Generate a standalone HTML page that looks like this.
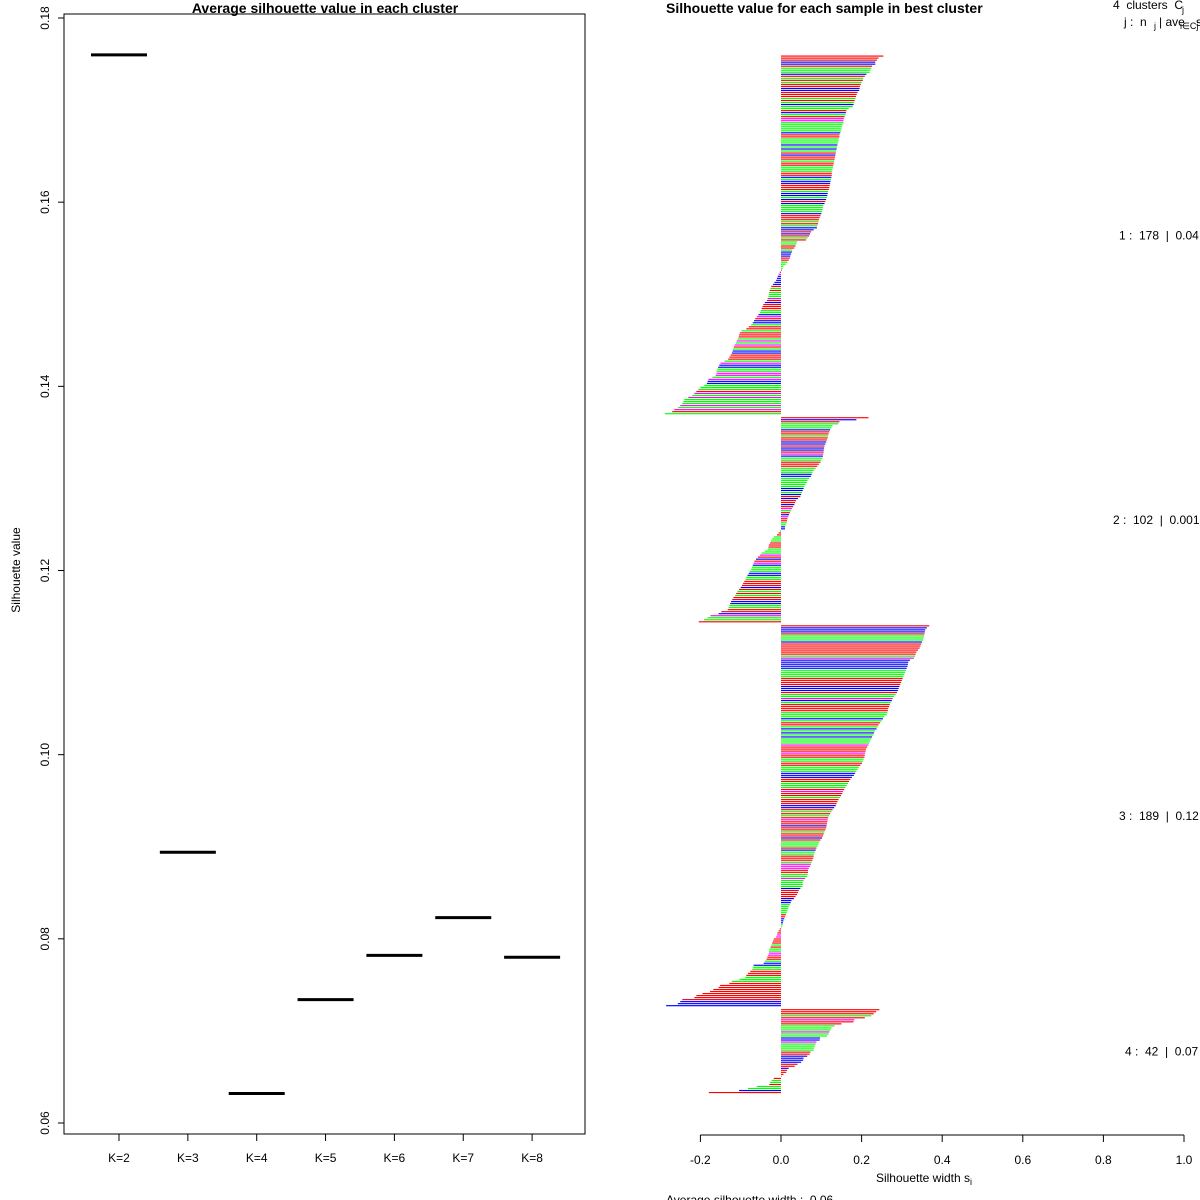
<!DOCTYPE html>
<html><head><meta charset="utf-8">
<style>
html,body{margin:0;padding:0;background:#fff;}
svg{display:block;font-family:"Liberation Sans",Arial,sans-serif;}
.pre{white-space:pre;}
</style></head>
<body>
<svg id="chart" width="1200" height="1200" viewBox="0 0 1200 1200" xmlns="http://www.w3.org/2000/svg">
<rect x="0" y="0" width="1200" height="1200" fill="#fff"/>
<g id="left"></g>
<g id="right"></g>
</svg>
<script>
// ---------- Left chart data ----------
const kLabels = ["K=2","K=3","K=4","K=5","K=6","K=7","K=8"];
const avgSil = [0.176,0.0894,0.0632,0.0734,0.0782,0.0823,0.0780];
const yTicks = [0.06,0.08,0.10,0.12,0.14,0.16,0.18];

// ---------- Right chart data ----------
const clusterSizes = [178,102,189,42];
const clusterAvgLabels = ["0.04","0.001","0.12","0.07"];
const sil1 = [0.254,0.242,0.238,0.234,0.234,0.226,0.224,0.222,0.220,0.212,0.208,0.204,0.203,0.200,0.198,0.196,0.195,0.194,0.190,0.188,0.186,0.185,0.183,0.181,0.180,0.178,
0.168,0.162,0.161,0.160,0.158,0.156,0.155,0.155,0.153,0.151,0.150,0.149,0.147,0.145,0.145,0.143,0.143,0.141,0.140,0.139,0.138,0.137,0.136,0.135,0.134,0.133,0.132,0.131,0.130,0.129,
0.128,0.127,0.126,0.126,0.125,0.124,0.123,0.122,0.121,0.120,0.119,0.117,0.116,0.115,0.114,0.112,0.110,0.108,0.105,0.104,0.103,0.102,0.100,0.098,0.096,0.094,0.093,0.092,0.090,0.089,
0.081,0.075,0.072,0.070,0.066,0.062,
0.040,0.038,0.036,0.033,0.028,0.027,0.025,0.023,0.022,0.019,0.016,0.012,0.006,0.004,0.002,
-0.003,-0.006,-0.008,-0.010,-0.012,-0.016,-0.020,-0.024,-0.026,-0.028,-0.030,-0.030,-0.031,-0.033,-0.035,-0.040,-0.044,-0.046,-0.048,-0.050,-0.052,-0.056,-0.060,-0.064,-0.067,-0.070,-0.074,-0.080,-0.086,-0.098,-0.102,-0.104,-0.105,-0.107,-0.110,-0.112,-0.115,-0.117,-0.119,-0.120,-0.122,-0.125,-0.128,-0.131,-0.140,-0.150,-0.153,-0.156,-0.158,-0.160,-0.160,-0.162,-0.170,-0.180,-0.182,-0.184,-0.190,-0.200,-0.205,-0.210,-0.215,-0.220,-0.230,-0.240,-0.242,-0.245,-0.250,-0.255,-0.265,-0.270,-0.288];
const sil2 = [0.217,0.187,0.145,0.142,0.128,0.125,0.122,0.120,0.118,0.117,0.116,0.114,0.112,0.110,0.108,0.107,0.106,0.106,0.105,0.104,0.103,0.100,0.098,0.094,0.090,0.086,0.082,0.078,0.076,0.074,0.070,0.066,0.064,0.061,0.058,0.056,0.054,0.052,0.050,0.048,0.042,0.037,0.035,0.033,0.030,0.027,0.025,0.022,0.020,0.018,0.016,0.015,0.014,0.012,0.010,0.010,
-0.003,-0.006,-0.010,-0.018,-0.022,-0.025,-0.027,-0.030,-0.031,-0.033,-0.040,-0.048,-0.052,-0.057,-0.062,-0.066,-0.068,-0.070,-0.072,-0.074,-0.078,-0.080,-0.083,-0.086,-0.088,-0.091,-0.094,-0.097,-0.100,-0.104,-0.108,-0.111,-0.114,-0.118,-0.121,-0.124,-0.126,-0.128,-0.130,-0.132,-0.148,-0.155,-0.175,-0.182,-0.191,-0.204];
const sil3 = [0.368,0.362,0.358,0.357,0.356,0.355,0.354,0.353,0.350,0.348,0.346,0.344,0.340,0.336,0.334,0.333,0.330,0.320,0.316,0.315,
0.314,0.312,0.310,0.308,0.306,0.304,0.302,0.300,0.298,0.296,0.294,0.292,0.290,0.288,0.284,0.280,0.277,0.275,0.272,0.270,
0.268,0.266,0.265,0.264,0.262,0.256,0.253,0.250,0.246,0.242,0.240,0.237,0.233,0.231,0.229,0.226,0.224,0.221,0.219,0.217,
0.214,0.211,0.210,0.209,0.208,0.207,0.205,0.203,0.201,0.197,0.193,0.190,0.187,0.184,0.181,0.176,0.172,0.169,0.166,0.163,
0.160,0.157,0.154,0.152,0.149,0.146,0.143,0.140,0.138,0.136,0.132,0.128,0.125,0.122,0.119,0.117,0.116,0.115,0.114,0.113,
0.112,0.110,0.108,0.106,0.104,0.102,0.098,0.095,0.093,0.091,0.088,0.086,0.084,0.082,0.081,0.080,0.078,0.076,0.074,0.072,
0.069,0.067,0.067,0.066,0.065,0.060,0.056,0.054,0.054,0.053,0.048,0.044,0.042,0.040,0.036,0.032,0.026,0.024,0.022,0.019,
0.018,0.016,0.014,0.012,0.010,0.008,0.006,0.005,0.004,0.002,
-0.003,-0.006,-0.009,-0.010,-0.012,-0.018,-0.020,-0.022,-0.024,-0.026,-0.029,-0.030,-0.030,-0.032,-0.034,-0.036,-0.040,-0.043,-0.068,-0.070,
-0.071,-0.076,-0.082,-0.086,-0.089,-0.103,-0.122,-0.128,-0.151,-0.155,-0.168,-0.176,-0.195,-0.210,-0.215,-0.245,-0.250,-0.256,-0.285];
const sil4 = [0.244,0.236,0.230,0.224,0.208,0.182,0.180,0.150,0.133,0.125,0.123,0.120,0.118,0.114,0.097,0.096,0.088,0.086,0.084,0.082,0.081,0.073,0.071,0.065,0.056,0.055,0.050,0.041,0.034,0.019,0.015,0.013,0.006,0.002,
-0.018,-0.023,-0.027,-0.029,-0.060,-0.082,-0.104,-0.179];
const silValues = [sil1, sil2, sil3, sil4];
const xTicks = [-0.2,0.0,0.2,0.4,0.6,0.8,1.0];
const col1 = "rrrbbrgggbrgrgrrbbrrrgrgbggrbgrmmgggggbrrgggbgbgrbrrgrrgggrrbgbbrrrgbbgbrbggggbrrrgrgbbrbrgrggrrgbbbrrggggrrmbbbbbrgrgggmrbrrrggbmrbbgrrgrrrgmgmrgbbrrrgmbbggmmgmbbgggrmgmgggmgmrg";
const col2 = "rbrgggbrrgrrbbrbbrmbggrrrgggbbgggggbbgbrbrrbrmgrbmrrggbbgrrgggrrrgggmrbrmbgggbbggrrrbrgrgrrbbggrrbmgg";
const col3 = "rbbbrgggbrrrrrrgmbbbbbggggrrrrbbbrggmbgrrrrgggbgrrgbgbgbgggmrrrmrrggrrgggbbbrrgggrmrrgrrrbbrgrgrmrrbrrgrrbrgggrbggrrrgmmmrrggmggggbrrrrbbbgggggrrbbbggrrrmmrrrgrggmmrrgbbggrrrgggrrrrrrrr";
const col4 = "rrrgrmrrgggmggbbmggggrrbbbbrrbrrrgrggrggbrg";
const colorMap = {r:"#ff0000", g:"#00ff00", b:"#0000ff", m:"#ff00ff"};

const NS = "http://www.w3.org/2000/svg";
function mk(parent, tag, attrs, text){
  const el = document.createElementNS(NS, tag);
  for (const k in attrs) el.setAttribute(k, attrs[k]);
  if (text !== undefined) el.textContent = text;
  parent.appendChild(el);
  return el;
}

// ================= LEFT =================
const L = document.getElementById('left');
const lx0 = 64, lx1 = 585, ly0 = 14, ly1 = 1134;
const yS = v => 1123 + (v - 0.06) * (18 - 1123) / (0.18 - 0.06);
const xK = i => 119 + i * 68.85;
let e;
e = mk(L,'rect',{x:lx0,y:ly0,width:lx1-lx0,height:ly1-ly0,fill:'none',stroke:'#000','stroke-width':1});


e = mk(L,'text',{x:325,y:13,'text-anchor':'middle','font-size':14,'font-weight':'bold'},'Average silhouette value in each cluster');


e = mk(L,'text',{x:20,y:570,'text-anchor':'middle','font-size':12,transform:'rotate(-90 20 570)'},'Silhouette value');


yTicks.forEach(t => {
  const y = yS(t);
  e = mk(L,'line',{x1:58,x2:lx0,y1:y,y2:y,stroke:'#000'});
  
  
  e = mk(L,'text',{x:49,y:y,'text-anchor':'middle','font-size':12,transform:'rotate(-90 49 '+y+')'},t.toFixed(2));
  
  
});
kLabels.forEach((k,i) => {
  const x = xK(i);
  e = mk(L,'line',{x1:x,x2:x,y1:ly1,y2:ly1+7,stroke:'#000'});
  
  
  e = mk(L,'text',{x:x,y:1162,'text-anchor':'middle','font-size':12},k);
  
  
  const y = yS(avgSil[i]);
  e = mk(L,'line',{x1:x-28,x2:x+28,y1:y,y2:y,stroke:'#000','stroke-width':3});
  
  
});

// ================= RIGHT =================
const R = document.getElementById('right');
const xS = v => 781 + v * (1184 - 781);
const totalSlots = clusterSizes.reduce((a,b)=>a+b,0) + clusterSizes.length - 1;
const barTop = 55.5, barBottom = 1094;
const pitch = (barBottom - barTop) / totalSlots;
const cols = [col1,col2,col3,col4];
e = mk(R,'text',{x:666,y:13,'font-size':14,'font-weight':'bold'},'Silhouette value for each sample in best cluster');


e = mk(R,'text',{x:1113,y:9,'font-size':12,'class':'pre'},'4  clusters  C');


mk(R,'text',{x:1182,y:13,'font-size':9},'j');
e = mk(R,'text',{x:1124,y:26,'font-size':12,'class':'pre'},'j :  n');


mk(R,'text',{x:1154,y:29,'font-size':9},'j');
mk(R,'text',{x:1159,y:26,'font-size':12},'| ave');
mk(R,'text',{x:1180,y:29,'font-size':9},'i∈Cj');
mk(R,'text',{x:1196,y:26,'font-size':12},'s');

let slot = 0;
silValues.forEach((vals, c) => {
  const g = mk(R,'g',{});
  
  
  const startSlot = slot;
  vals.forEach((v, i) => {
    const y = barTop + slot * pitch;
    const x0 = xS(0), x1 = xS(v);
    const ch = cols[c][i % cols[c].length];
    const r = mk(g,'rect',{x:Math.min(x0,x1),y:y,width:Math.max(0.5,Math.abs(x1-x0)),height:1.15,fill:colorMap[ch]});
    
    
    slot++;
  });
  const midY = barTop + (startSlot + vals.length/2) * pitch + 4;
  const lbl = (c+1)+' :  '+clusterSizes[c]+'  |  '+clusterAvgLabels[c];
  const lx = [1119,1113,1119,1125][c];
  e = mk(R,'text',{x:lx,y:midY,'font-size':12,'class':'pre'},lbl);
  
  
  slot++;
});

e = mk(R,'line',{x1:xS(-0.2),x2:xS(1.0),y1:1135,y2:1135,stroke:'#000'});


xTicks.forEach(t => {
  const x = xS(t);
  e = mk(R,'line',{x1:x,x2:x,y1:1135,y2:1142,stroke:'#000'});
  
  
  e = mk(R,'text',{x:x,y:1164,'text-anchor':'middle','font-size':12},t.toFixed(1));
  
  
});
e = mk(R,'text',{x:923,y:1182,'text-anchor':'middle','font-size':12},'Silhouette width s');


mk(R,'text',{x:970,y:1185,'font-size':9},'i');
e = mk(R,'text',{x:666,y:1204,'font-size':12,'class':'pre'},'Average silhouette width :  0.06');


</script>
</body></html>
